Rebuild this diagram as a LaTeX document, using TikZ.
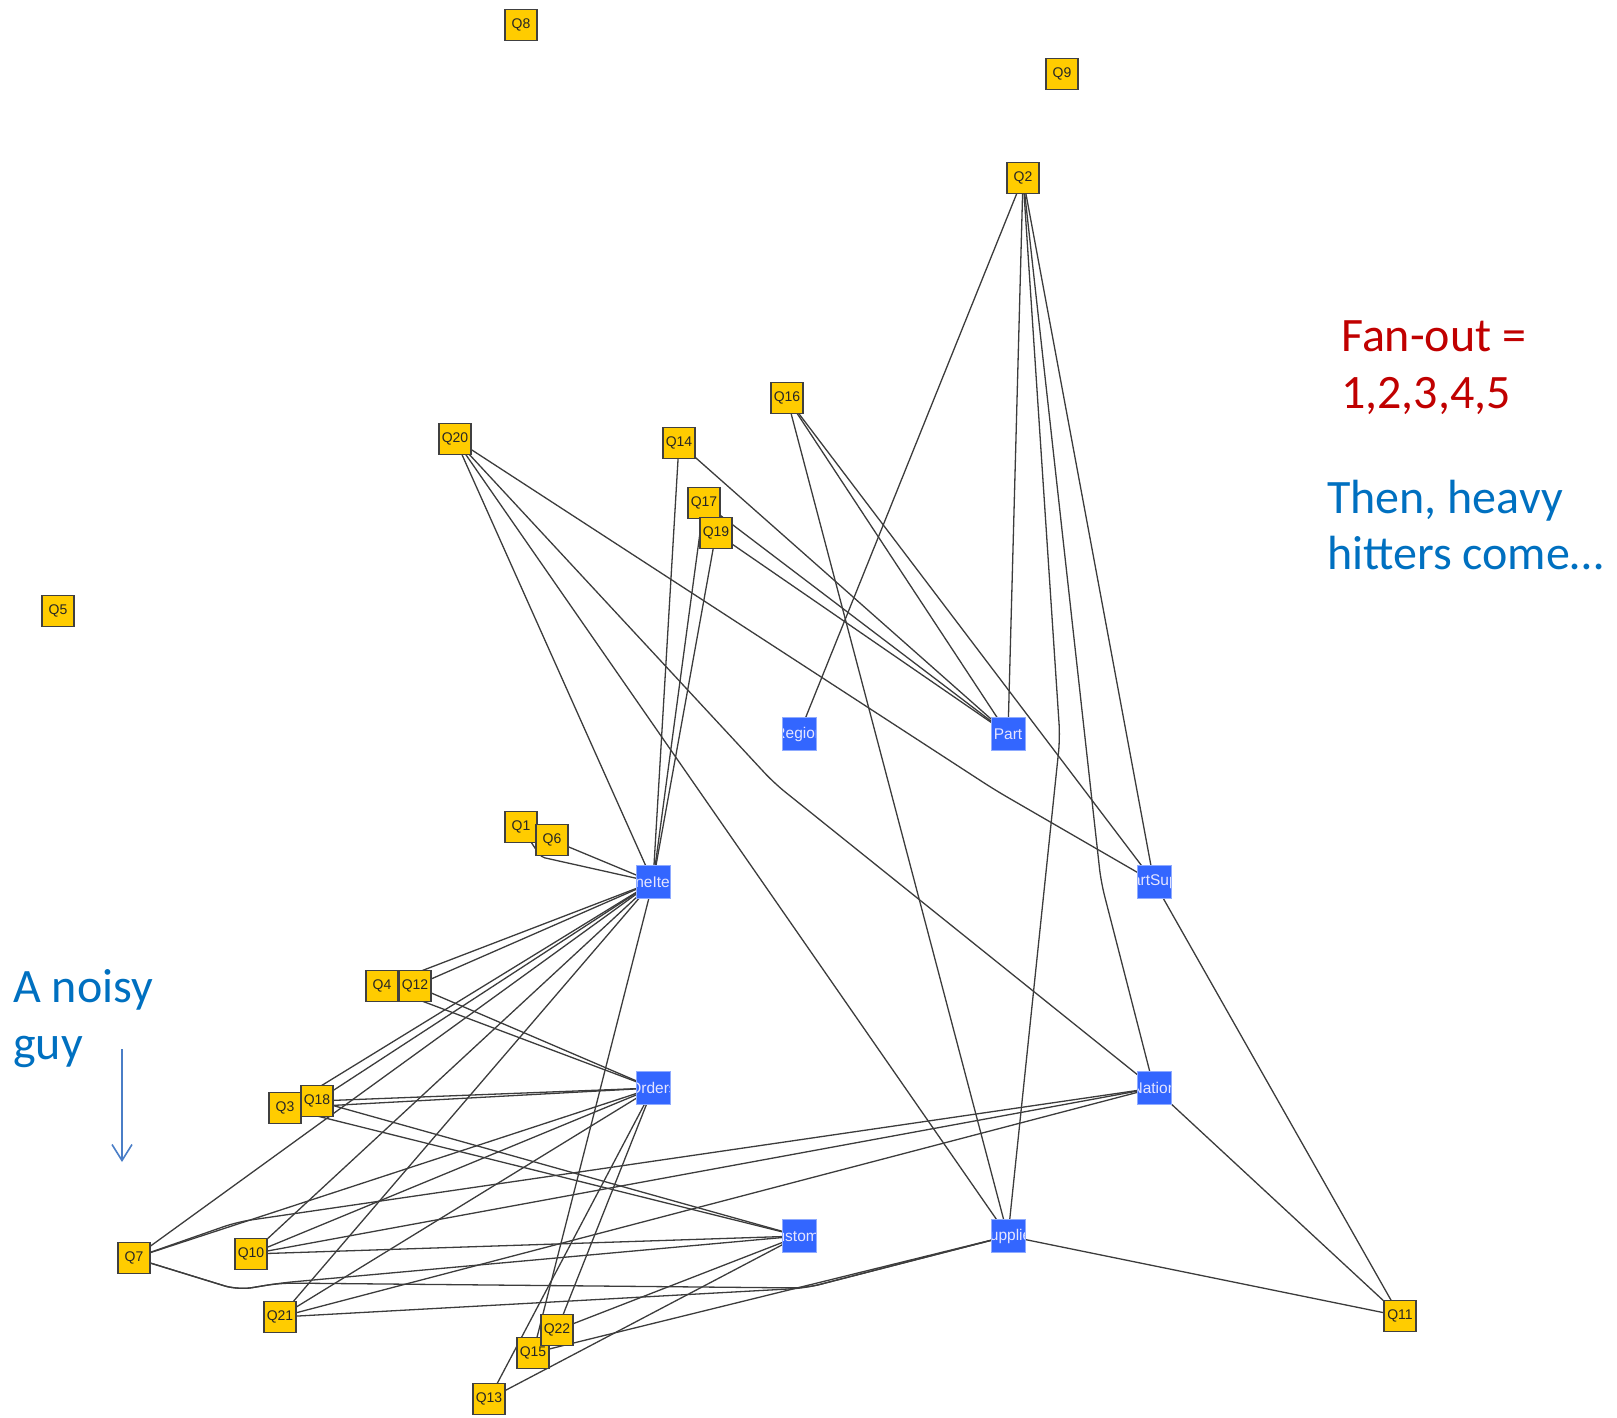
\documentclass[tikz,border=0pt]{standalone}
\usepackage{fontspec}
\setmainfont{Liberation Sans}
\newfontfamily\callout{Carlito}
\usetikzlibrary{backgrounds,arrows.meta}
\definecolor{qyellow}{HTML}{FFCC00}
\definecolor{tblue}{HTML}{3366FF}
\definecolor{edgegray}{HTML}{3C3C3C}
\definecolor{notered}{HTML}{C00000}
\definecolor{noteblue}{HTML}{0070C0}
\definecolor{arrowblue}{HTML}{4A7EC7}

\begin{document}
\begin{tikzpicture}[x=1pt,y=-1pt,
  query/.style={draw=black!75, line width=1.3pt, fill=qyellow,
    minimum width=32pt, minimum height=31pt, inner sep=0pt,
    font=\fontsize{14}{14}\selectfont, text=black!85},
  tbl/.style={fill=tblue, draw=tblue!55!white, line width=0.7pt,
    minimum width=34pt, minimum height=33pt, inner sep=0pt,
    path picture={\node[text=white!90!blue, font=\fontsize{15.5}{15.5}\selectfont, inner sep=0pt]
      at (path picture bounding box.center) {#1};}},
  link/.style={draw=edgegray, line width=1.3pt, rounded corners=14pt},
  note/.style={font=\callout\fontsize{48}{57}\selectfont, anchor=base west, inner sep=0pt}
]
\useasboundingbox (0,0) rectangle (1617,1417);

% tables
\node[tbl=Region]   (reg)  at (799,734)  {};
\node[tbl=Part]     (part) at (1008,734) {};
\node[tbl=LineItem] (li)   at (653,882)  {};
\node[tbl=PartSupp] (ps)   at (1154,882) {};
\node[tbl=Orders]   (ord)  at (653,1088) {};
\node[tbl=Nation]   (nat)  at (1154,1088) {};
\node[tbl=Customer] (cus)  at (799,1236) {};
\node[tbl=Supplier] (sup)  at (1008,1236) {};

% queries
\node[query] (q8)  at (521,25)   {Q8};
\node[query] (q9)  at (1062,74)  {Q9};
\node[query] (q2)  at (1023,178) {Q2};
\node[query] (q16) at (787,398)  {Q16};
\node[query] (q20) at (455,439)  {Q20};
\node[query] (q14) at (679,443)  {Q14};
\node[query] (q17) at (704,503)  {Q17};
\node[query] (q19) at (716,533)  {Q19};
\node[query] (q5)  at (58,611)   {Q5};
\node[query] (q1)  at (521,827)  {Q1};
\node[query] (q6)  at (552,840)  {Q6};
\node[query] (q4)  at (382,986)  {Q4};
\node[query] (q12) at (415,986)  {Q12};
\node[query] (q3)  at (285,1108) {Q3};
\node[query] (q18) at (317,1101) {Q18};
\node[query] (q7)  at (134,1258) {Q7};
\node[query] (q10) at (251,1254) {Q10};
\node[query] (q21) at (280,1317) {Q21};
\node[query] (q15) at (533,1353) {Q15};
\node[query] (q22) at (557,1330) {Q22};
\node[query] (q13) at (489,1399) {Q13};
\node[query] (q11) at (1400,1316) {Q11};

% bend points of routed links
\coordinate (b1)   at (541,857);
\coordinate (b2s)  at (1060,738);
\coordinate (b2n)  at (1101,882);
\coordinate (b20n) at (774,783);
\coordinate (b20p) at (995,790);
\coordinate (b7a)  at (237,1222);
\coordinate (b7b)  at (238,1290);
\coordinate (b7c)  at (280,1283);
\coordinate (bsup) at (806,1288);

\begin{pgfonlayer}{background}
  % Q2
  \draw[link] (q2.center) -- (reg.center);
  \draw[link] (q2.center) -- (part.center);
  \draw[link] (q2.center) -- (b2s) -- (sup.center);
  \draw[link] (q2.center) -- (b2n) -- (nat.center);
  \draw[link] (q2.center) -- (ps.center);
  % Q20
  \draw[link] (q20.center) -- (li.center);
  \draw[link] (q20.center) -- (sup.center);
  \draw[link] (q20.center) -- (b20n) -- (nat.center);
  \draw[link] (q20.center) -- (b20p) -- (ps.center);
  % Q16
  \draw[link] (q16.center) -- (sup.center);
  \draw[link] (q16.center) -- (part.center);
  \draw[link] (q16.center) -- (ps.center);
  % Q14, Q17, Q19
  \draw[link] (q14.center) -- (li.center);
  \draw[link] (q14.center) -- (part.center);
  \draw[link] (q17.center) -- (li.center);
  \draw[link] (q17.center) -- (part.center);
  \draw[link] (q19.center) -- (li.center);
  \draw[link] (q19.center) -- (part.center);
  % Q1, Q6
  \draw[link, rounded corners=4pt] (q1.center) -- (b1) -- (li.center);
  \draw[link] (q6.center) -- (li.center);
  % Q4, Q12
  \draw[link] (q4.center) -- (li.center);
  \draw[link] (q4.center) -- (ord.center);
  \draw[link] (q12.center) -- (li.center);
  \draw[link] (q12.center) -- (ord.center);
  % Q3, Q18
  \draw[link] (q3.center) -- (li.center);
  \draw[link] (q3.center) -- (ord.center);
  \draw[link] (q3.center) -- (cus.center);
  \draw[link] (q18.center) -- (li.center);
  \draw[link] (q18.center) -- (ord.center);
  \draw[link] (q18.center) -- (cus.center);
  % Q7
  \draw[link] (q7.center) -- (li.center);
  \draw[link] (q7.center) -- (ord.center);
  \draw[link] (q7.center) -- (b7a) -- (nat.center);
  \draw[link] (q7.center) -- (b7b) -- (b7c) -- (cus.center);
  \draw[link] (q7.center) -- (b7b) -- (b7c) -- (bsup) -- (sup.center);
  % Q10
  \draw[link] (q10.center) -- (li.center);
  \draw[link] (q10.center) -- (ord.center);
  \draw[link] (q10.center) -- (nat.center);
  \draw[link] (q10.center) -- (cus.center);
  % Q21
  \draw[link] (q21.center) -- (li.center);
  \draw[link] (q21.center) -- (ord.center);
  \draw[link] (q21.center) -- (nat.center);
  \draw[link] (q21.center) -- (bsup) -- (sup.center);
  % Q13, Q22, Q15
  \draw[link] (q13.center) -- (ord.center);
  \draw[link] (q13.center) -- (cus.center);
  \draw[link] (q22.center) -- (ord.center);
  \draw[link] (q22.center) -- (cus.center);
  \draw[link] (q15.center) -- (li.center);
  \draw[link] (q15.center) -- (sup.center);
  % Q11
  \draw[link] (q11.center) -- (ps.center);
  \draw[link] (q11.center) -- (nat.center);
  \draw[link] (q11.center) -- (sup.center);
\end{pgfonlayer}

% annotations
\node[note, text=notered] (fan1) at (1341,351) {Fan-out =};
\node[note, text=notered] (fan2) at (1341,408) {1,2,3,4,5};
\node[note, text=noteblue] (heavy1) at (1327,513) {Then, heavy};
\node[note, text=noteblue] (heavy2) at (1327,569) {hitters come…};
\node[note, text=noteblue] (noisy1) at (13,1002) {A noisy};
\node[note, text=noteblue] (noisy2) at (13,1059) {guy};

\coordinate (arrtop) at (122,1049);
\coordinate (arrbot) at (122,1162);
\draw[arrowblue, line width=1.6pt, -{Straight Barb[length=16pt, width=20pt, line width=1.6pt]}]
  (arrtop) -- (arrbot);
\end{tikzpicture}
\end{document}
